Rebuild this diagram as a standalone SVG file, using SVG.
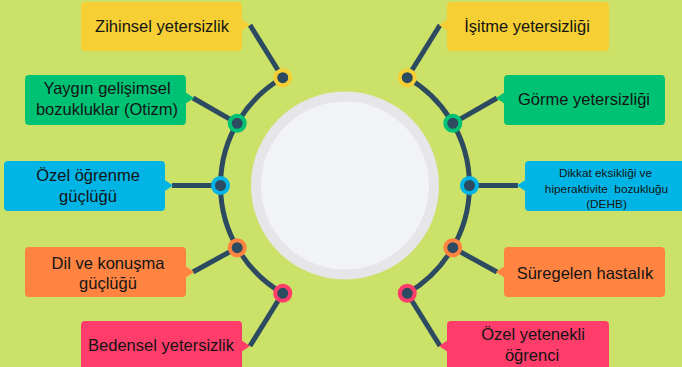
<svg xmlns="http://www.w3.org/2000/svg" width="682" height="367" viewBox="0 0 682 367">
<style>
.t{font-family:"Liberation Sans",Arial,sans-serif;font-size:16.5px;fill:#141414;text-anchor:middle}
.s{font-size:11.8px}
.ln{stroke:#2d4b60;stroke-width:5;fill:none}
.y{fill:#f5cf33}.g{fill:#00c275}.b{fill:#00b4e6}.o{fill:#ff8442}.p{fill:#ff3c6a}
.dot{fill:#2d4b60;stroke-width:4}
.dy{stroke:#f5cf33}.dg{stroke:#00c275}.db{stroke:#00b4e6}.do{stroke:#ff8442}.dp{stroke:#ff3c6a}
</style>
<rect width="682" height="367" fill="#cbe168"/>
<g id="center">
<circle cx="345" cy="185.5" r="94" fill="#e6e6e8"/>
<circle cx="345" cy="185.5" r="84" fill="#f2f3f5"/>
</g>
<g id="connectors">
<path class="ln" d="M282.75,77.7 A124.5,124.5 0 0 0 282.75,293.3"/>
<path class="ln" d="M407.25,77.7 A124.5,124.5 0 0 1 407.25,293.3"/>
<path class="ln" d="M282.75,77.7 L250,25"/>
<path class="ln" d="M237.2,123.3 L193,98"/>
<path class="ln" d="M220.5,185.5 L172,185.5"/>
<path class="ln" d="M237.2,247.7 L193,272"/>
<path class="ln" d="M282.75,293.3 L250,346"/>
<path class="ln" d="M407.25,77.7 L440,25"/>
<path class="ln" d="M452.8,123.3 L497,98"/>
<path class="ln" d="M469.5,185.5 L518,185.5"/>
<path class="ln" d="M452.8,247.7 L497,272"/>
<path class="ln" d="M407.25,293.3 L440,346"/>
</g>
<g id="n-zihinsel">
<rect class="y" x="81" y="2" width="161" height="49" rx="4"/>
<polygon class="y" points="241,19 250,25 241,31"/>
<circle class="dot dy" cx="282.75" cy="77.7" r="7.5"/>
<text class="t" x="162" y="32">Zihinsel yetersizlik</text>
</g>
<g id="n-yaygin">
<rect class="g" x="25" y="75" width="161" height="50" rx="4"/>
<polygon class="g" points="185,92 194,98 185,104"/>
<circle class="dot dg" cx="237.2" cy="123.3" r="7.5"/>
<text class="t" x="107" y="94">Yaygın gelişimsel</text>
<text class="t" x="107" y="115">bozukluklar (Otizm)</text>
</g>
<g id="n-ogrenme">
<rect class="b" x="4" y="161" width="161" height="50" rx="4"/>
<polygon class="b" points="164,179.5 173,185.5 164,191.5"/>
<circle class="dot db" cx="220.5" cy="185.5" r="7.5"/>
<text class="t" x="88" y="181">Özel öğrenme</text>
<text class="t" x="88" y="202">güçlüğü</text>
</g>
<g id="n-dil">
<rect class="o" x="25" y="247" width="161" height="50" rx="4"/>
<polygon class="o" points="185,266 194,272 185,278"/>
<circle class="dot do" cx="237.2" cy="247.7" r="7.5"/>
<text class="t" x="108" y="269">Dil ve konuşma</text>
<text class="t" x="108" y="289">güçlüğü</text>
</g>
<g id="n-bedensel">
<rect class="p" x="81" y="321" width="161" height="52" rx="4"/>
<polygon class="p" points="241,340 250,346 241,352"/>
<circle class="dot dp" cx="282.75" cy="293.3" r="7.5"/>
<text class="t" x="161" y="351">Bedensel yetersizlik</text>
</g>
<g id="n-isitme">
<rect class="y" x="447" y="2" width="162" height="49" rx="4"/>
<polygon class="y" points="448,19 439,25 448,31"/>
<circle class="dot dy" cx="407.25" cy="77.7" r="7.5"/>
<text class="t" x="527" y="32">İşitme yetersizliği</text>
</g>
<g id="n-gorme">
<rect class="g" x="504" y="75" width="161" height="50" rx="4"/>
<polygon class="g" points="505,92 496,98 505,104"/>
<circle class="dot dg" cx="452.8" cy="123.3" r="7.5"/>
<text class="t" x="584" y="105">Görme yetersizliği</text>
</g>
<g id="n-dehb">
<rect class="b" x="525" y="161" width="165" height="50" rx="4"/>
<polygon class="b" points="526,179.5 517,185.5 526,191.5"/>
<circle class="dot db" cx="469.5" cy="185.5" r="7.5"/>
<text class="t s" x="605.5" y="177">Dikkat eksikliği ve</text>
<text class="t s" x="606.5" y="193" xml:space="preserve">hiperaktivite  bozukluğu</text>
<text class="t s" x="606.5" y="208">(DEHB)</text>
</g>
<g id="n-suregelen">
<rect class="o" x="504" y="247" width="161" height="50" rx="4"/>
<polygon class="o" points="505,266 496,272 505,278"/>
<circle class="dot do" cx="452.8" cy="247.7" r="7.5"/>
<text class="t" x="585" y="279">Süregelen hastalık</text>
</g>
<g id="n-ozelyetenekli">
<rect class="p" x="447" y="321" width="162" height="52" rx="4"/>
<polygon class="p" points="448,340 439,346 448,352"/>
<circle class="dot dp" cx="407.25" cy="293.3" r="7.5"/>
<text class="t" x="533" y="340">Özel yetenekli</text>
<text class="t" x="532" y="361">öğrenci</text>
</g>
</svg>
